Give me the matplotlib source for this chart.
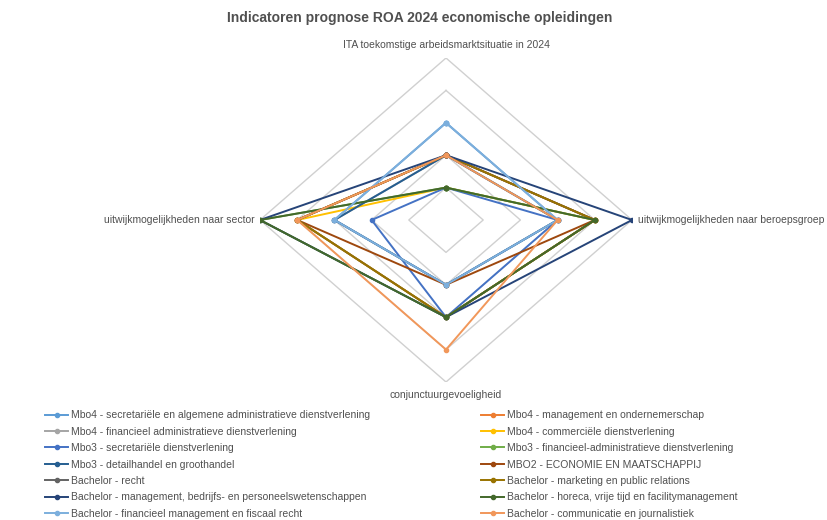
import numpy as np
import matplotlib.pyplot as plt

plt.rcParams['font.family'] = ['Liberation Sans', 'DejaVu Sans']

# ------------------------------------------
# data
# ------------------------------------------
axis_labels = ['ITA toekomstige arbeidsmarktsituatie in 2024',
               'uitwijkmogelijkheden naar beroepsgroep',
               'conjunctuurgevoeligheid',
               'uitwijkmogelijkheden naar sector']

series_names = [
    'Mbo4 - secretariële en algemene administratieve dienstverlening',
    'Mbo4 - management en ondernemerschap',
    'Mbo4 - financieel administratieve dienstverlening',
    'Mbo4 - commerciële dienstverlening',
    'Mbo3 - secretariële dienstverlening',
    'Mbo3 - financieel-administratieve dienstverlening',
    'Mbo3 - detailhandel en groothandel',
    'MBO2 - ECONOMIE EN MAATSCHAPPIJ',
    'Bachelor - recht',
    'Bachelor - marketing en public relations',
    'Bachelor - management, bedrijfs- en personeelswetenschappen',
    'Bachelor - horeca, vrije tijd en facilitymanagement',
    'Bachelor - financieel management en fiscaal recht',
    'Bachelor - communicatie en journalistiek',
]

# values per series: [ITA, beroepsgroep, conjunctuur, sector]
series_values = [
    [3, 3, 2, 3],
    [2, 4, 3, 4],
    [2, 3, 2, 3],
    [1, 4, 3, 4],
    [1, 3, 3, 2],
    [1, 4, 3, 5],
    [2, 3, 2, 3],
    [2, 4, 2, 4],
    [2, 4, 3, 4],
    [2, 4, 3, 4],
    [2, 5, 3, 5],
    [1, 4, 3, 5],
    [3, 3, 2, 3],
    [2, 3, 4, 4],
]

colors = ['#5B9BD5', '#ED7D31', '#A5A5A5', '#FFC000', '#4472C4', '#70AD47',
          '#255E91', '#9E480E', '#636363', '#997300', '#264478', '#43682B',
          '#7CAFDD', '#F1975A']

grid_levels = [1, 2, 3, 4, 5]

# ------------------------------------------
# plot
# ------------------------------------------
fig = plt.figure(figsize=(8.27, 5.2), dpi=100)
ax = fig.add_axes([260 / 827, (520 - 382) / 520, 372 / 827, 324 / 520])
ax.set_xlim(-5, 5)
ax.set_ylim(-5, 5)
ax.axis('off')

angles = np.arange(len(axis_labels)) * 2 * np.pi / len(axis_labels)

# gridringen
for lv in grid_levels:
    r = np.full(len(angles) + 1, lv)
    a = np.append(angles, angles[0])
    ax.plot(r * np.sin(a), r * np.cos(a), color='#D0D0D0', lw=1.0, zorder=1)

handles = []
for name, vals, c in zip(series_names, series_values, colors):
    v = np.append(vals, vals[0])
    a = np.append(angles, angles[0])
    h, = ax.plot(v * np.sin(a), v * np.cos(a), color=c, lw=1.4,
                 marker='o', ms=3, label=name, zorder=2)
    handles.append(h)

# aslabels
lab_kw = dict(fontsize=7.5, color='#505050')
ax.text(0, 5.25, axis_labels[0], ha='center', va='bottom', **lab_kw)
ax.text(0.15 + 5, 0, axis_labels[1], ha='left', va='center', **lab_kw)
ax.text(0, -5.25, axis_labels[2], ha='center', va='top', **lab_kw)
ax.text(-5.15, 0, axis_labels[3], ha='right', va='center', **lab_kw)

fig.suptitle('Indicatoren prognose ROA 2024 economische opleidingen',
             x=0.508, y=0.978, fontsize=10, fontweight='bold', color='#505050')

# legenda, rijgewijs zoals in Excel
leg_kw = dict(frameon=False, fontsize=7.5, handlelength=2.2, handletextpad=0.3,
              labelspacing=0.62, borderaxespad=0, labelcolor='#505050')
fig.legend(handles=handles[0::2], loc='upper left',
           bbox_to_anchor=(41 / 827, 1 - 406 / 520), **leg_kw)
fig.legend(handles=handles[1::2], loc='upper left',
           bbox_to_anchor=(477 / 827, 1 - 406 / 520), **leg_kw)

fig.savefig('out.png', dpi=100)
